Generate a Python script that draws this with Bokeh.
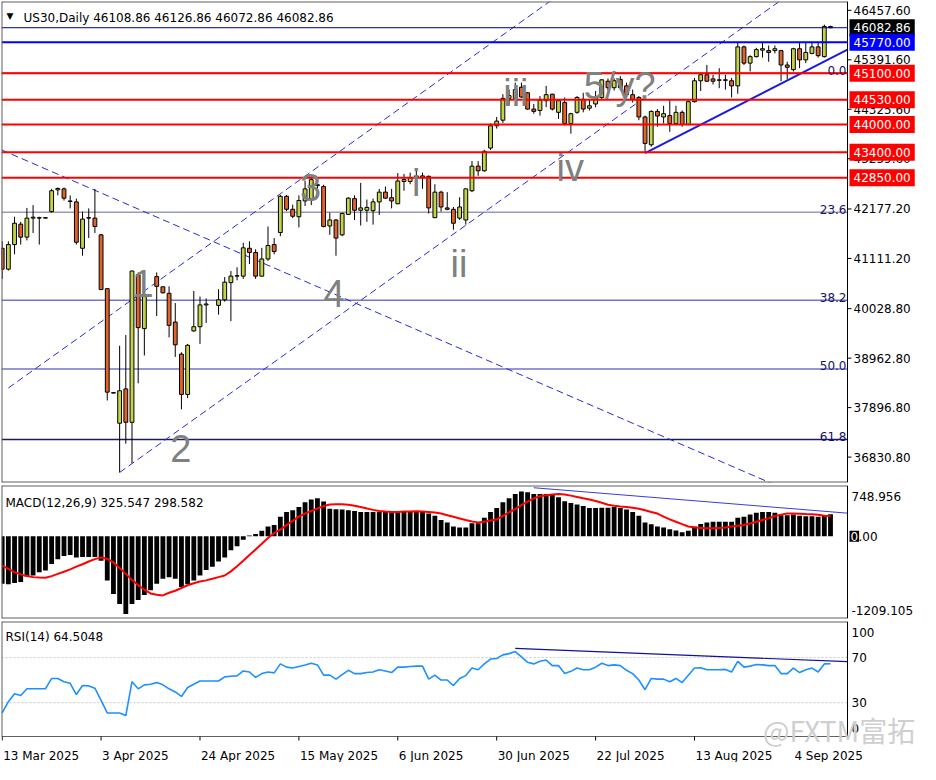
import numpy as np
from bokeh.plotting import figure
from bokeh.models import Range1d, Label
from bokeh.layouts import column
from bokeh.core.properties import value
from bokeh.embed import file_html
from bokeh.resources import INLINE

# ---------------- data (bar 0 = 13 Mar 2025, daily bars) ----------------
ohlc = [
    (41330, 41480, 40670, 40880), (40880, 41480, 40850, 41410), (41410, 42010, 41200, 41870),
    (41850, 41900, 41410, 41570), (41570, 42200, 41500, 41980), (41980, 42260, 41660, 42000),
    (41990, 42010, 41410, 41980), (41980, 42000, 41970, 41990), (42120, 42610, 42100, 42570),
    (42590, 42640, 42470, 42620), (42610, 42640, 42360, 42410), (42350, 42470, 42190, 42340),
    (42330, 42400, 41410, 41460), (41330, 42120, 41170, 41960), (41990, 42190, 41550, 41980),
    (41980, 42610, 41660, 41800), (41620, 41640, 40430, 40440), (40460, 40460, 38050, 38230),
    (38220, 38230, 38200, 38210), (37560, 39230, 36500, 38260), (38300, 39460, 37120, 37580),
    (37580, 40850, 36700, 40840), (40760, 40810, 38420, 39620), (39600, 40430, 39020, 40290),
    None, (40720, 40810, 39870, 40510), (40500, 40500, 40360, 40370),
    (40360, 40510, 39410, 39670), (39740, 40150, 38990, 39250), (39050, 39090, 37860, 38180),
    (38180, 39270, 38100, 39240), (39550, 40410, 39530, 39640), (39640, 40290, 39270, 40110),
    (40110, 40250, 39720, 40130), None, (40100, 40450, 39900, 40220),
    (40220, 40710, 40180, 40600), (40590, 40840, 39760, 40730), (40730, 40920, 40640, 40740),
    (40730, 41450, 40670, 41340), (41330, 41480, 40990, 41240), (41240, 41310, 40670, 40730),
    (40730, 41340, 40720, 41100), (41100, 41800, 41060, 41390), (41410, 41550, 41200, 41260),
    (41670, 42480, 41590, 42450), (42450, 42480, 42130, 42170), (42170, 42270, 41980, 42020),
    (42010, 42470, 41780, 42360), (42350, 42780, 42240, 42610), (42400, 42890, 42260, 42810),
    (42700, 42830, 42470, 42680), (42660, 42700, 41780, 41800), (41810, 42100, 41620, 41940),
    (41940, 41960, 41170, 41550), (41620, 42100, 41590, 42080), (42060, 42430, 42050, 42410),
    (42400, 42470, 41940, 42150), (42150, 42740, 41820, 42200), (42150, 42380, 41900, 42210),
    (42140, 42400, 41840, 42330), (42330, 42610, 42050, 42540), (42540, 42660, 42400, 42410),
    (42420, 42610, 42190, 42350), (42290, 42950, 42280, 42780), (42770, 42930, 42570, 42810),
    (42770, 42960, 42710, 42850), (42850, 43000, 42720, 42890), (42890, 42960, 42610, 42850),
    (42880, 42900, 42080, 42200), (41990, 42710, 41980, 42540), (42540, 42570, 42120, 42220),
    (42200, 42540, 42150, 42170), (42170, 42220, 41730, 41870), (41980, 42430, 41940, 42220),
    (41940, 42620, 41840, 42610), (42570, 43210, 42540, 43100), (43100, 43210, 42890, 43000),
    (43000, 43450, 42980, 43420), (43490, 44020, 43450, 43970), (43970, 44160, 43910, 44070),
    (44090, 44650, 44030, 44560), (44560, 44750, 44400, 44620), (44560, 44900, 44520, 44750),
    (44800, 44900, 44570, 44590), (44680, 44700, 44320, 44330), (44330, 44440, 44230, 44280),
    (44300, 44610, 44190, 44520), (44510, 44830, 44370, 44640), (44650, 44660, 44300, 44330),
    (44260, 44540, 44120, 44510), (44470, 44580, 43980, 44020), (44020, 44250, 43800, 44230),
    (44260, 44610, 44230, 44580), (44540, 44680, 44260, 44330), (44350, 44540, 44300, 44400),
    (44440, 44720, 44370, 44580), (44580, 44970, 44540, 44960), (44930, 44990, 44730, 44790),
    (44790, 44990, 44730, 44940), (44970, 45040, 44730, 44790), (44830, 44900, 44610, 44640),
    (44640, 44750, 44470, 44540), (44580, 44610, 44090, 44160), (44160, 44190, 43380, 43590),
    (43560, 44300, 43520, 44280), (44280, 44330, 43950, 44180), (44160, 44400, 44020, 44230),
    (44190, 44540, 43840, 44020), (44020, 44400, 44000, 44260), (44260, 44300, 43950, 44000),
    (44000, 44510, 43980, 44490), (44490, 45000, 44470, 44940), (44940, 45110, 44720, 45070),
    (45070, 45280, 44920, 44930), (44980, 45070, 44860, 44930), (44950, 45210, 44780, 44960),
    (44960, 45070, 44750, 44950), (44940, 45000, 44580, 44830), (44830, 45780, 44660, 45670),
    (45670, 45700, 45280, 45320), (45320, 45490, 45140, 45460), (45460, 45650, 45440, 45610),
    (45600, 45780, 45440, 45630), (45590, 45700, 45350, 45550), (45590, 45700, 45530, 45630),
    (45590, 45600, 44930, 45280), (45280, 45350, 44970, 45230), (45180, 45650, 45140, 45630),
    (45630, 45780, 45210, 45390), (45390, 45780, 45320, 45550), (45530, 45780, 45510, 45670),
    (45670, 45780, 45440, 45480), (45460, 46150, 45440, 46110),
    (46108.86, 46126.86, 46072.86, 46082.86),
]
opens = [r[0] if r else None for r in ohlc]
highs = [r[1] if r else None for r in ohlc]
lows = [r[2] if r else None for r in ohlc]
closes = [r[3] if r else None for r in ohlc]

macd_main = [
    -696, -706, -686, -672, -590, -576, -528, -504, -408, -336,
    -288, -274, -312, -302, -302, -302, -360, -648, -850, -994,
    -1142, -994, -936, -864, -792, -696, -624, -600, -624, -744,
    -706, -648, -576, -494, -446, -370, -312, -206, -144, -48,
    14, 34, 82, 144, 168, 288, 360, 384, 432, 504,
    542, 562, 514, 408, 398, 394, 384, 374, 360, 360,
    360, 360, 360, 360, 360, 370, 374, 374, 370, 336,
    302, 240, 206, 144, 130, 130, 192, 192, 274, 360,
    418, 504, 562, 624, 662, 648, 624, 624, 624, 610,
    576, 518, 490, 470, 446, 418, 418, 422, 422, 432,
    418, 394, 360, 302, 206, 178, 144, 130, 106, 86,
    62, 82, 144, 182, 206, 216, 216, 216, 216, 274,
    288, 322, 346, 360, 360, 346, 312, 312, 322, 302,
    298, 298, 288, 312, 325.547,
]
macd_signal = [
    -432, -480, -528, -560, -585, -600, -607, -610, -585, -552,
    -520, -485, -446, -410, -370, -335, -312, -330, -384, -465,
    -552, -640, -720, -785, -840, -860, -869, -830, -800, -760,
    -720, -690, -665, -648, -625, -600, -576, -515, -440, -360,
    -275, -192, -110, -24, 50, 100, 165, 230, 290, 335,
    374, 410, 446, 468, 474, 472, 466, 450, 432, 410,
    390, 374, 365, 360, 360, 365, 368, 370, 365, 360,
    350, 336, 312, 288, 264, 240, 218, 206, 215, 235,
    250, 300, 355, 400, 460, 510, 560, 590, 605, 615,
    624, 615, 600, 580, 560, 542, 520, 495, 466, 450,
    440, 432, 420, 408, 385, 360, 336, 290, 250, 216,
    180, 145, 130, 125, 120, 120, 125, 130, 145, 158,
    168, 190, 215, 240, 265, 300, 320, 336, 336, 332,
    328, 326, 318, 305, 298.582,
]
rsi = [
    20.9, 30.9, 38.0, 36.3, 42.3, 42.3, 42.3, 42.3, 51.5, 51.5,
    48.6, 47.2, 37.2, 45.2, 44.9, 42.9, 32.0, 20.9, 20.9, 20.9,
    18.6, 48.6, 42.3, 45.8, 46.4, 47.8, 45.8, 42.3, 39.5, 35.5,
    43.5, 46.4, 49.2, 49.2, 49.2, 49.2, 52.9, 53.5, 53.8, 58.1,
    57.2, 52.4, 55.8, 57.2, 56.4, 64.4, 61.5, 60.7, 62.1, 63.5,
    65.0, 63.5, 54.4, 54.4, 50.9, 54.9, 58.7, 55.8, 55.8, 56.7,
    57.2, 59.2, 58.1, 56.7, 61.5, 61.5, 62.1, 62.4, 62.4, 50.9,
    54.4, 50.1, 50.1, 45.2, 51.5, 54.0, 60.7, 59.2, 64.4, 68.7,
    69.2, 72.4, 73.5, 75.3, 70.7, 65.8, 64.4, 66.7, 67.8, 62.9,
    62.9, 55.8, 57.8, 60.7, 59.2, 59.2, 61.5, 65.0, 62.9, 63.5,
    62.9, 58.7, 55.8, 50.1, 41.5, 51.5, 50.9, 50.9, 48.6, 51.5,
    47.8, 54.4, 60.7, 60.9, 59.2, 59.2, 59.2, 59.5, 57.2, 66.7,
    61.5, 62.4, 63.8, 63.5, 62.9, 62.9, 55.8, 55.8, 60.7, 56.7,
    59.2, 60.7, 57.2, 64.4, 64.5048,
]
assert len(ohlc) == len(macd_main) == len(macd_signal) == len(rsi) == 135

date_tick_bars = [0, 16, 32, 48, 64, 80, 96, 112, 128]
date_tick_labels = ["13 Mar 2025", "3 Apr 2025", "24 Apr 2025", "15 May 2025", "6 Jun 2025",
                    "30 Jun 2025", "22 Jul 2025", "13 Aug 2025", "4 Sep 2025"]
price_ticks = [46457.60, 45391.60, 44325.60, 43259.60, 42177.20, 41111.20,
               40028.80, 38962.80, 37896.80, 36830.80]

level_prices = [46082.86, 45770.00, 45100.00, 44530.00, 44000.00, 43400.00, 42850.00]
level_colors = ["#000080", "#0000FF", "#FF0000", "#FF0000", "#FF0000", "#FF0000", "#FF0000"]
level_widths = [1, 2, 2, 2, 2, 2, 2]
level_box_colors = ["#000000", "#0000FF", "#FF0000", "#FF0000", "#FF0000", "#FF0000", "#FF0000"]

fib_names = ["0.0", "23.6", "38.2", "50.0", "61.8"]
fib_prices = [45100, 42109, 40209, 38731, 37211]
fib_colors = ["#FF0000", "#9a9ab8", "#7474c8", "#7474c8", "#1c1c5c"]

upper_channel = ((1, 38320), (50, 42980))
lower_channel = ((19, 36500), (75, 41826))
down_line = ((0, 43445), (100, 37675))
wedge_line = ((104, 43382), (134, 45422))
macd_trend = ((86, 716), (136.7, 342))
rsi_trend = ((83, 78.1), (136.7, 66.4))

wave_text = ["1", "2", "3", "4", "i", "ii", "iii", "iv", "5/y?"]
wave_bar = [22.8, 28.9, 49.9, 53.7, 67.0, 73.9, 83.1, 91.9, 99.9]
wave_price = [40568, 37021, 42637, 40357, 42742, 40990, 44684, 43059, 44832]

macd_labels = ["748.956", "-1209.105"]
macd_label_vals = [591, -1094]
rsi_labels = ["100", "70", "30", "0"]
rsi_label_vals = [92, 70, 30, 7]

# ---------------- layout constants ----------------
FONT = "DejaVu Sans"
CHART_PX = 846            # width of the chart area in px
FRAME_W = 919             # chart area + right price-scale area
FH1, FH2 = 481, 133
FH3_RSI, FH3_DATES = 115, 26
XS, AXIS_X = -0.11, 136.75
K = CHART_PX / (AXIS_X - XS)          # px per bar
XE = XS + FRAME_W / K
BULL = "#C3D448"
BEAR = "#E2622C"
BORDER = "#606060"

x_range = Range1d(XS, XE)


def ray(a, b, x_end, x_start=None):
    s = (b[1] - a[1]) / (b[0] - a[0])
    xs = a[0] if x_start is None else x_start
    return [xs, x_end], [a[1] + s * (xs - a[0]), a[1] + s * (x_end - a[0])]


def panel(fh, y0, y1, top_border):
    p = figure(frame_width=FRAME_W, frame_height=fh, x_range=x_range, y_range=Range1d(y0, y1),
               output_backend="svg", toolbar_location=None,
               x_axis_location=None, y_axis_location=None,
               min_border_left=1, min_border_right=0, min_border_top=top_border,
               min_border_bottom=1)
    p.xgrid.visible = False
    p.ygrid.visible = False
    p.outline_line_color = None
    p.background_fill_color = "white"
    p.border_fill_color = "white"
    return p


def frame_lines(p, y0, y1, bottom_width=2):
    p.segment(x0=[XS, XS], y0=[y0, y1], x1=[XS, AXIS_X], y1=[y1, y1],
              line_color=BORDER, line_width=2)
    p.segment(x0=[XS], y0=[y0], x1=[AXIS_X], y1=[y0], line_color=BORDER, line_width=bottom_width)
    p.segment(x0=[AXIS_X], y0=[y0], x1=[AXIS_X], y1=[y1], line_color="black", line_width=1)


def right_texts(p, texts, vals, offset=4):
    p.text(x=[AXIS_X] * len(texts), y=vals, text=texts, x_offset=offset,
           text_font=value(FONT), text_font_size=value("12px"), text_color="black",
           text_align="left", text_baseline="middle")


# ---------------- main price panel ----------------
Y0, Y1 = 36283, 46648
p1 = panel(FH1, Y0, Y1, 1)

idx = np.arange(len(ohlc))
o = np.array([np.nan if v is None else v for v in opens], float)
h = np.array([np.nan if v is None else v for v in highs], float)
l = np.array([np.nan if v is None else v for v in lows], float)
c = np.array([np.nan if v is None else v for v in closes], float)
cols = [BULL if cc > oo else (BEAR if cc < oo else "black") for oo, cc in zip(o, c)]

p1.segment(x0=[XS] * len(fib_prices), x1=[AXIS_X] * len(fib_prices), y0=fib_prices,
           y1=fib_prices, line_color=fib_colors, line_width=1.5)
for name, fp in zip(fib_names, fib_prices):
    p1.add_layout(Label(x=AXIS_X, y=fp, text=name, text_align="right",
                        text_baseline="alphabetic", x_offset=-1, y_offset=3,
                        text_font=FONT, text_font_size="12px", text_color="#141464"))

dash_kw = dict(line_color="#2a2ad2", line_width=1, line_dash="7 4")
for a, b, xs0 in [(*upper_channel, None), (*lower_channel, None), (*down_line, XS)]:
    xs, ys = ray(a, b, AXIS_X, x_start=xs0)
    p1.line(xs, ys, **dash_kw)

p1.segment(x0=idx, y0=l, x1=idx, y1=h, line_color="black", line_width=1)
p1.vbar(x=idx, width=0.62, top=np.fmax(o, c), bottom=np.fmin(o, c),
        fill_color=cols, line_color="black", line_width=1)

xs, ys = ray(*wedge_line, AXIS_X)
p1.line(xs, ys, line_color="#1a1ae0", line_width=2)

p1.segment(x0=[XS] * len(level_prices), x1=[AXIS_X] * len(level_prices), y0=level_prices,
           y1=level_prices, line_color=level_colors, line_width=level_widths)

frame_lines(p1, Y0, Y1)

p1.segment(x0=[AXIS_X] * len(price_ticks), x1=[AXIS_X + 4 / K] * len(price_ticks),
           y0=price_ticks, y1=price_ticks, line_color="black", line_width=1)
right_texts(p1, [f"{v:.2f}" for v in price_ticks], price_ticks, offset=6)
for lp, bc in zip(level_prices, level_box_colors):
    p1.add_layout(Label(x=AXIS_X, y=lp, x_offset=2, text=f"{lp:.2f}",
                        text_align="left", text_baseline="middle", text_font=FONT,
                        text_font_size="12px", text_color="white",
                        background_fill_color=bc, padding=4))

p1.text(x=wave_bar, y=wave_price, text=wave_text, text_font=value("Liberation Sans"),
        text_font_size=value("38px"), text_color="#808080", text_align="center",
        text_baseline="alphabetic")

p1.add_layout(Label(x=5, y=FH1 - 14, x_units="screen", y_units="screen", text="\u25bc",
                    text_font=FONT, text_font_size="9px", text_color="black",
                    text_baseline="alphabetic"))
p1.add_layout(Label(x=22, y=FH1 - 16, x_units="screen", y_units="screen",
                    text="US30,Daily  46108.86 46126.86 46072.86 46082.86",
                    text_font=FONT, text_font_size="12px", text_color="black",
                    text_baseline="alphabetic"))

# ---------------- MACD panel ----------------
M0, M1 = -1209.105, 748.956
p2 = panel(FH2, M0, M1, 2)
p2.vbar(x=idx, width=0.78, top=macd_main, bottom=0, fill_color="black", line_color=None)
p2.line(idx, macd_signal, line_color="#FF0000", line_width=2)
xs, ys = ray(*macd_trend, AXIS_X)
p2.line(xs, ys, line_color="#3a3ae0", line_width=1)
frame_lines(p2, M0, M1)
p2.add_layout(Label(x=4, y=FH2 - 17, x_units="screen", y_units="screen",
                    text="MACD(12,26,9) 325.547 298.582", text_font=FONT,
                    text_font_size="12px", text_color="black", text_baseline="alphabetic"))
right_texts(p2, macd_labels, macd_label_vals)
p2.add_layout(Label(x=AXIS_X, y=0, x_offset=2, text="0",
                    text_font=FONT, text_font_size="12px", text_color="white",
                    background_fill_color="black", text_baseline="middle", padding=1))
p2.add_layout(Label(x=AXIS_X, y=0, x_offset=11, text=".00",
                    text_font=FONT, text_font_size="12px", text_color="black",
                    text_baseline="middle"))

# ---------------- RSI panel (with date strip below) ----------------
R_TOP = 102
R_BOT = -R_TOP * FH3_DATES / FH3_RSI
p3 = panel(FH3_RSI + FH3_DATES, R_BOT, R_TOP, 2)
p3.min_border_bottom = 0
p3.segment(x0=[XS, XS], x1=[AXIS_X, AXIS_X], y0=[70, 30], y1=[70, 30],
           line_color="#c8c8c8", line_width=1, line_dash="2 2")
p3.line(idx, rsi, line_color="#1E90FF", line_width=1.6)
xs, ys = ray(*rsi_trend, AXIS_X)
p3.line(xs, ys, line_color="#10109a", line_width=1.2)
p3.segment(x0=[XS, XS], y0=[0, R_TOP], x1=[XS, AXIS_X], y1=[R_TOP, R_TOP],
           line_color=BORDER, line_width=2)
p3.segment(x0=[XS], y0=[0], x1=[AXIS_X], y1=[0], line_color=BORDER, line_width=1)
p3.segment(x0=[AXIS_X], y0=[0], x1=[AXIS_X], y1=[R_TOP], line_color="black", line_width=1)
p3.add_layout(Label(x=4, y=FH3_DATES + FH3_RSI - 15, x_units="screen", y_units="screen",
                    text="RSI(14) 64.5048", text_font=FONT, text_font_size="12px",
                    text_color="black", text_baseline="alphabetic"))
right_texts(p3, rsi_labels, rsi_label_vals)
p3.segment(x0=date_tick_bars, x1=date_tick_bars, y0=[0] * len(date_tick_bars),
           y1=[-4 * R_TOP / FH3_RSI] * len(date_tick_bars), line_color="black", line_width=1)
for b, t in zip(date_tick_bars, date_tick_labels):
    p3.add_layout(Label(x=b, y=0, x_offset=1, y_offset=-19, text=t,
                        text_font=FONT, text_font_size="12px", text_color="black",
                        text_align="left", text_baseline="alphabetic"))
p3.add_layout(Label(x=123.1, y=5.4, text="@FXTM\u5bcc\u62d3",
                    text_font="Noto Sans CJK SC", text_font_size="28px", text_color="#cfcfcf",
                    text_baseline="alphabetic"))

layout = column(p1, p2, p3, spacing=0)
open("out.html", "w").write(file_html(layout, INLINE))
